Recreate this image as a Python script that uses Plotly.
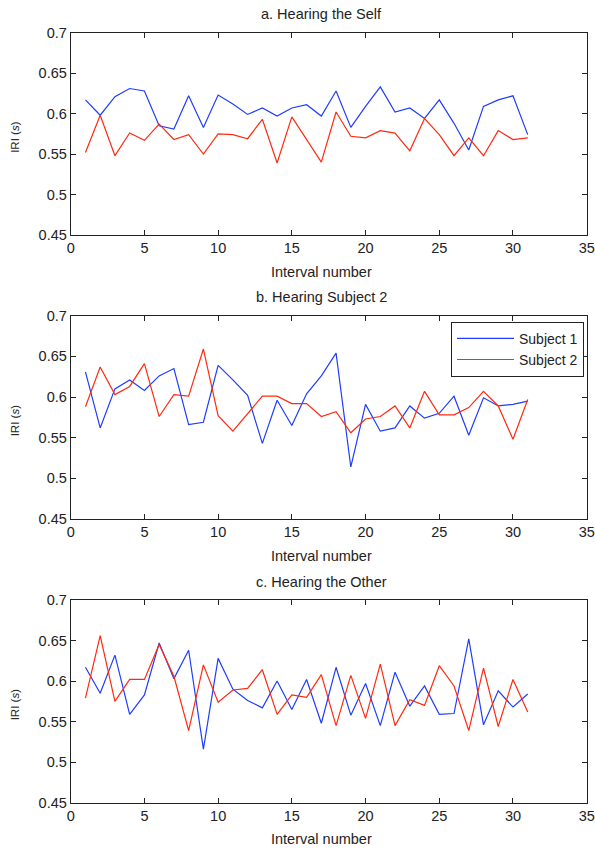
import plotly.graph_objects as go

intervals = list(range(1, 32))

a_subject1 = [0.617, 0.598, 0.621, 0.631, 0.628, 0.585, 0.581, 0.622, 0.583, 0.623,
              0.612, 0.599, 0.607, 0.597, 0.607, 0.611, 0.597, 0.628, 0.583, 0.609,
              0.633, 0.602, 0.607, 0.594, 0.617, 0.588, 0.555, 0.609, 0.617, 0.622, 0.574]
a_subject2 = [0.552, 0.598, 0.548, 0.576, 0.567, 0.587, 0.568, 0.574, 0.550, 0.575,
              0.574, 0.569, 0.593, 0.539, 0.596, 0.568, 0.540, 0.602, 0.572, 0.570,
              0.579, 0.576, 0.554, 0.594, 0.574, 0.548, 0.570, 0.548, 0.579, 0.568, 0.570]

b_subject1 = [0.631, 0.562, 0.610, 0.621, 0.608, 0.626, 0.635, 0.566, 0.569, 0.639,
              0.621, 0.602, 0.543, 0.596, 0.565, 0.604, 0.626, 0.654, 0.514, 0.591,
              0.558, 0.562, 0.589, 0.574, 0.580, 0.601, 0.553, 0.599, 0.589, 0.591, 0.595]
b_subject2 = [0.588, 0.637, 0.603, 0.613, 0.641, 0.576, 0.603, 0.601, 0.659, 0.577,
              0.558, 0.580, 0.601, 0.601, 0.592, 0.592, 0.576, 0.582, 0.556, 0.573,
              0.576, 0.589, 0.562, 0.607, 0.578, 0.578, 0.587, 0.607, 0.589, 0.548, 0.597]

c_subject1 = [0.617, 0.585, 0.632, 0.559, 0.583, 0.647, 0.603, 0.638, 0.516, 0.628,
              0.590, 0.576, 0.567, 0.600, 0.565, 0.602, 0.548, 0.617, 0.558, 0.597,
              0.545, 0.611, 0.569, 0.594, 0.559, 0.560, 0.652, 0.546, 0.588, 0.568, 0.584]
c_subject2 = [0.579, 0.656, 0.575, 0.602, 0.602, 0.645, 0.606, 0.539, 0.620, 0.574,
              0.589, 0.591, 0.614, 0.559, 0.583, 0.580, 0.608, 0.545, 0.607, 0.554,
              0.621, 0.545, 0.577, 0.570, 0.619, 0.594, 0.539, 0.616, 0.544, 0.602, 0.562]

panel_titles = ["a. Hearing the Self", "b. Hearing Subject 2", "c. Hearing the Other"]
series_names = ["Subject 1", "Subject 2"]
x_tickvals = [0, 5, 10, 15, 20, 25, 30, 35]
x_ticktext = ["0", "5", "10", "15", "20", "25", "30", "35"]
y_tickvals = [0.45, 0.5, 0.55, 0.6, 0.65, 0.7]
y_ticktext = ["0.45", "0.5", "0.55", "0.6", "0.65", "0.7"]

W, H = 595, 849
BLUE = "#1f3cff"
RED = "#ff2a10"
INK = "#222"
FONT = "Liberation Sans, Arial, sans-serif"


def xp(px):
    return px / W


def yp(py):
    return 1 - py / H


x_dom = [xp(70.7), xp(586.7)]
panels_px = [(32.7, 235.0), (315.7, 519.0), (600.0, 802.7)]  # top, bottom in page px

data = [(a_subject1, a_subject2), (b_subject1, b_subject2), (c_subject1, c_subject2)]

fig = go.Figure()
annotations = []
for i, ((s1, s2), (top, bot)) in enumerate(zip(data, panels_px)):
    idx = "" if i == 0 else str(i + 1)
    xa = "x" + idx
    ya = "y" + idx
    show = (i == 1)
    fig.add_trace(go.Scatter(x=intervals, y=s1, mode="lines", name=series_names[0],
                             line=dict(color=BLUE, width=1.2), xaxis=xa, yaxis=ya,
                             showlegend=show))
    fig.add_trace(go.Scatter(x=intervals, y=s2, mode="lines", name=series_names[1],
                             line=dict(color=RED, width=1.2), xaxis=xa, yaxis=ya,
                             showlegend=show))
    ydom = [yp(bot), yp(top)]
    axis_common = dict(showline=True, linecolor=INK, linewidth=1, mirror="ticks",
                       ticks="inside", ticklen=5, tickcolor=INK, showgrid=False,
                       zeroline=False, automargin=False, ticklabeloverflow="allow",
                       tickfont=dict(family=FONT, size=14.5, color=INK))
    fig.update_layout(**{
        "xaxis" + idx: dict(domain=x_dom, range=[0, 35], tickvals=x_tickvals,
                            ticktext=x_ticktext, anchor=ya, **axis_common),
        "yaxis" + idx: dict(domain=ydom, range=[0.45, 0.7], tickvals=y_tickvals,
                            ticktext=y_ticktext, anchor=xa, **axis_common),
    })
    annotations.append(dict(text=panel_titles[i], x=xp(321), y=yp(top - 18.5),
                            xref="paper", yref="paper", showarrow=False,
                            xanchor="center", yanchor="middle",
                            font=dict(family=FONT, size=14.5, color=INK)))
    annotations.append(dict(text="Interval number", x=xp(321.6), y=yp(bot + 36.5),
                            xref="paper", yref="paper", showarrow=False,
                            xanchor="center", yanchor="middle",
                            font=dict(family=FONT, size=14.5, color=INK)))
    annotations.append(dict(text="IRI (<i>s</i>)", x=xp(15), y=yp((top + bot) / 2 + 4),
                            xref="paper", yref="paper", showarrow=False, textangle=-90,
                            xanchor="center", yanchor="middle",
                            font=dict(family=FONT, size=11.5, color=INK)))

fig.update_layout(
    width=W, height=H,
    margin=dict(l=0, r=0, t=0, b=0, autoexpand=False),
    paper_bgcolor="white", plot_bgcolor="white",
    annotations=annotations,
    showlegend=True,
    legend=dict(x=xp(584), y=yp(321.7), xanchor="right", yanchor="top",
                bordercolor=INK, borderwidth=1, bgcolor="white",
                font=dict(family=FONT, size=14, color=INK),
                tracegroupgap=0, itemwidth=57),
)

fig.write_html("out.html", config={"displayModeBar": False},
               post_script="document.body.style.margin='0px';")
